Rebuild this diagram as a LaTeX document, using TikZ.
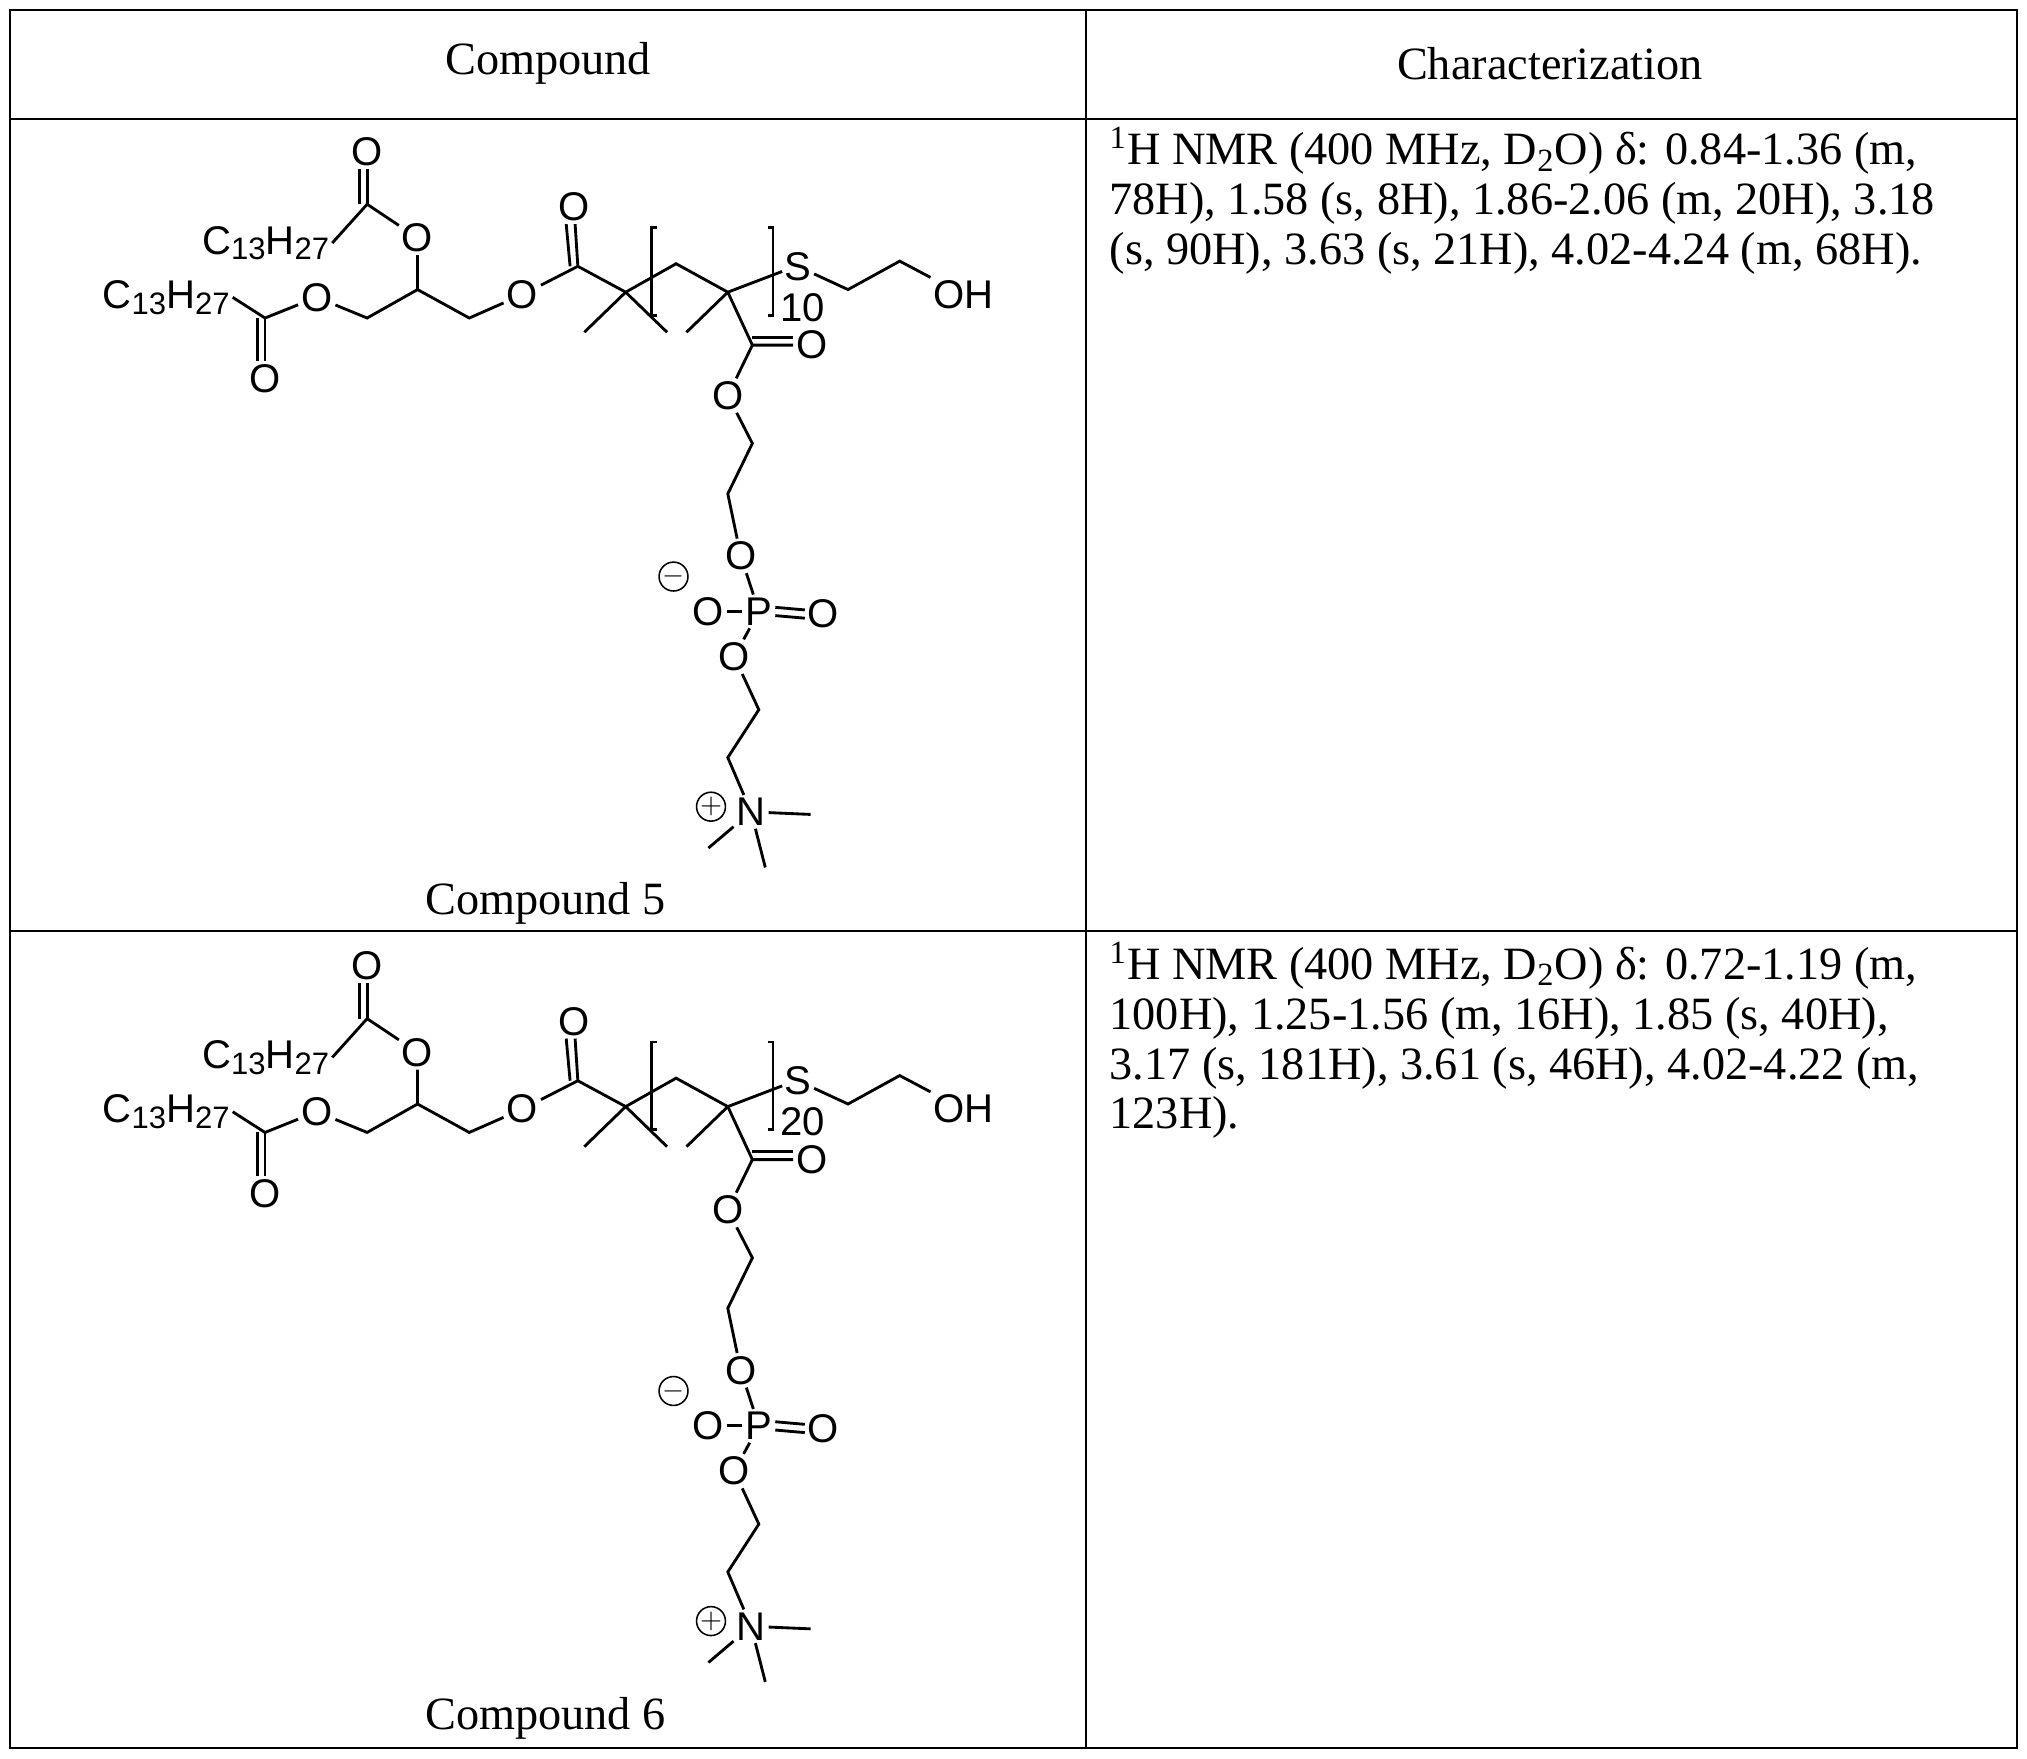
\documentclass[tikz,border=0pt]{standalone}
\usepackage{fontspec}
\setmainfont{Liberation Serif}
\newfontfamily\atomfont{Liberation Sans}
\begin{document}
\begin{tikzpicture}[x=0.5pt,y=-0.5pt,
  bond/.style={line width=1.1pt},
  atom/.style={font=\atomfont\fontsize{15.5}{15.5}\selectfont,inner sep=1pt},
  txt/.style={font=\fontsize{17.9}{19.3}\selectfont,anchor=west,inner sep=0pt},
  grid/.style={line width=0.7pt}]
\useasboundingbox (0,0) rectangle (1568,1360);
\draw[grid] (8,8) rectangle (1560,1352);
\draw[grid] (840,8) -- (840,1352);
\draw[grid] (8,92) -- (1560,92);
\draw[grid] (8,720) -- (1560,720);
\node[txt,anchor=center] (h1) at (424,49) {Compound};
\node[txt,anchor=center] (h2) at (1199,49) {Characterization};
\newcommand\mymol[3]{%
\begin{scope}[yshift=#1*-0.5pt,name prefix=#2-]
\node[atom] (Oa) at (284,117) {O};
\coordinate (Ca) at (284,158);
\node[atom,anchor=east] (Ra) at (257,188) {C{\fontsize{12}{12}\selectfont\raisebox{-0.35ex}{13}}H{\fontsize{12}{12}\selectfont\raisebox{-0.35ex}{27}}};
\node[atom] (Ob) at (323,184) {O};
\coordinate (CH) at (323,224);
\coordinate (C3) at (363,246);
\node[atom] (Oc) at (404,228) {O};
\coordinate (Cb) at (447,206);
\node[atom] (Od) at (444,160) {O};
\coordinate (Q1) at (484,226);
\coordinate (M1) at (452,257);
\coordinate (M2) at (516,257);
\coordinate (CH2) at (523,204);
\coordinate (Q2) at (563,226);
\coordinate (M3) at (531,257);
\coordinate (Sb) at (605,210);
\node[atom] (S) at (617,206) {S};
\node[atom] (n) at (621,238) {#3};
\coordinate (E1) at (656,224);
\coordinate (E2) at (696,202);
\node[atom] (OH) at (745,228) {OH};
\coordinate (Cc) at (582,267);
\node[atom] (Oe) at (628,267) {O};
\node[atom] (Of) at (563,306) {O};
\coordinate (F1) at (582,343);
\coordinate (F2) at (563,382);
\node[atom] (Og) at (573,430) {O};
\node[atom] (P) at (587,473) {P};
\node[atom] (Oh) at (548,473) {O};
\node[atom] (Oi) at (637,475) {O};
\node[atom,circle,draw,line width=0.6pt,inner sep=0pt,minimum size=10pt,font=\atomfont\fontsize{11}{11}\selectfont] (minus) at (521,446) {$-$};
\node[atom] (Oj) at (568,508) {O};
\coordinate (G1) at (587,549);
\coordinate (G2) at (563,586);
\node[atom] (N) at (581,628) {N};
\node[atom,circle,draw,line width=0.6pt,inner sep=0pt,minimum size=10pt,font=\atomfont\fontsize{11}{11}\selectfont] (plus) at (550,624) {$+$};
\coordinate (N1) at (627,630);
\coordinate (N2) at (548,656);
\coordinate (N3) at (592,671);
\node[atom,anchor=east] (Rb) at (180,230) {C{\fontsize{12}{12}\selectfont\raisebox{-0.35ex}{13}}H{\fontsize{12}{12}\selectfont\raisebox{-0.35ex}{27}}};
\coordinate (Cd) at (205,246);
\node[atom] (Ok) at (205,293) {O};
\node[atom] (Ol) at (245,230) {O};
\coordinate (C1) at (284,246);
\node[txt,anchor=center] (lab) at (422,699) {Compound #2};
\draw[bond] (Ra.east) -- (Ca) -- (Ob) -- (CH) -- (C3) -- (Oc) -- (Cb) -- (Q1) -- (CH2) -- (Q2) -- (Sb) -- (S) -- (E1) -- (E2) -- (OH);
\draw[bond] (Ca) -- (Oa);
\draw[bond] ([xshift=-3pt]Ca) -- ([xshift=-3pt]Oa.south);
\draw[bond] (Cb) -- (Od);
\draw[bond] ([xshift=-3pt]Cb) -- ([xshift=-3pt]Od.south);
\draw[bond] (Q1) -- (M1); \draw[bond] (Q1) -- (M2); \draw[bond] (Q2) -- (M3);
\draw[bond] (508,176) -- ++(-4,0) -- (504,244) -- ++(4,0);
\draw[bond] (594,176) -- ++(4,0) -- (598,244) -- ++(-4,0);
\draw[bond] (Q2) -- (Cc) -- (Oe);
\draw[bond] ([yshift=3pt]Cc) -- ([yshift=3pt]Oe.west);
\draw[bond] (Cc) -- (Of) -- (F1) -- (F2) -- (Og) -- (P) -- (Oj) -- (G1) -- (G2) -- (N);
\draw[bond] (Oh) -- (P);
\draw[bond] ([yshift=1.6pt]P.east) -- ([yshift=1.6pt]Oi.west);
\draw[bond] ([yshift=-1.6pt]P.east) -- ([yshift=-1.6pt]Oi.west);
\draw[bond] (N) -- (N1); \draw[bond] (N) -- (N2); \draw[bond] (N) -- (N3);
\draw[bond] (Rb.east) -- (Cd) -- (Ol) -- (C1) -- (CH);
\draw[bond] (Cd) -- (Ok);
\draw[bond] ([xshift=-3pt]Cd) -- ([xshift=-3pt]Ok.north);
\end{scope}}
\mymol{0}{5}{10}
\mymol{630}{6}{20}
\node[txt,anchor=north west,align=left] (t5) at (858,98) {\textsuperscript{1}H NMR (400 MHz, D\textsubscript{2}O) δ: 0.84-1.36 (m,\\78H), 1.58 (s, 8H), 1.86-2.06 (m, 20H), 3.18\\(s, 90H), 3.63 (s, 21H), 4.02-4.24 (m, 68H).};
\node[txt,anchor=north west,align=left] (t6) at (858,728) {\textsuperscript{1}H NMR (400 MHz, D\textsubscript{2}O) δ: 0.72-1.19 (m,\\100H), 1.25-1.56 (m, 16H), 1.85 (s, 40H),\\3.17 (s, 181H), 3.61 (s, 46H), 4.02-4.22 (m,\\123H).};
\end{tikzpicture}
\end{document}
